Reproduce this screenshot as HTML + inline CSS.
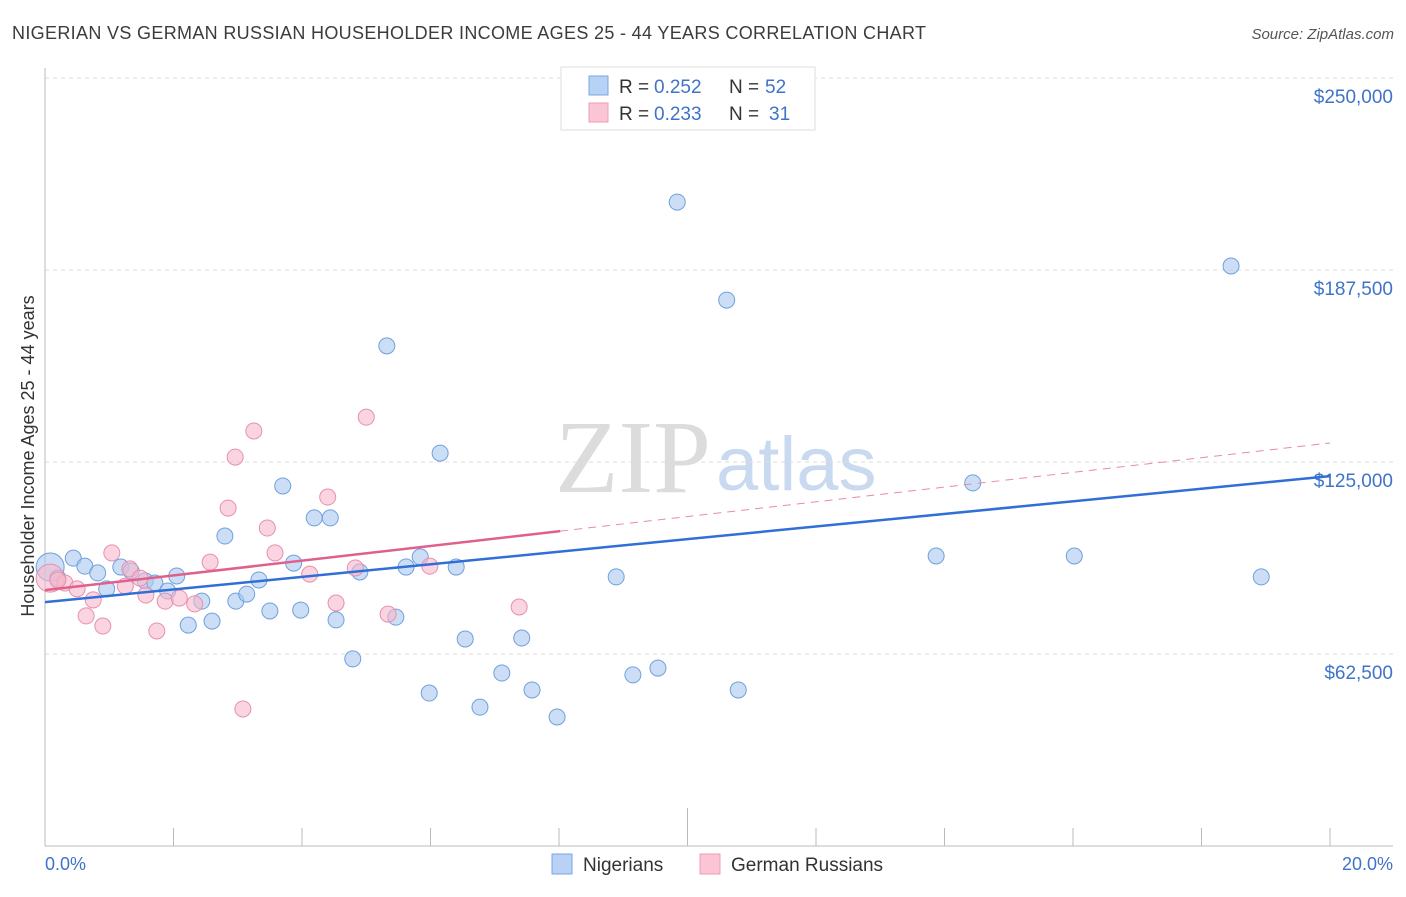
<!DOCTYPE html>
<html><head><meta charset="utf-8"><style>
body{margin:0;background:#fff;font-family:"Liberation Sans",sans-serif;}
</style></head><body>
<svg id="chart" width="1406" height="892" xmlns="http://www.w3.org/2000/svg">
<text x="12" y="39" font-size="18" fill="#3c3c3c" textLength="914">NIGERIAN VS GERMAN RUSSIAN HOUSEHOLDER INCOME AGES 25 - 44 YEARS CORRELATION CHART</text>
<text x="1394" y="39" font-size="15" fill="#555" font-style="italic" text-anchor="end">Source: ZipAtlas.com</text>
<text x="555" y="492" font-size="104" fill="#dcdcdc" font-family="Liberation Serif">ZIP</text>
<text x="716" y="490" font-size="76" fill="#c9daf0">atlas</text>
<g id="grid"></g><g id="axes"></g><g id="marks"></g>
<text transform="translate(34,456) rotate(-90)" font-size="18" fill="#333" text-anchor="middle">Householder Income Ages 25 - 44 years</text>
<text x="45" y="870" font-size="18" fill="#3f73c9">0.0%</text>
<text x="1393" y="870" font-size="18" fill="#3f73c9" text-anchor="end">20.0%</text>
<g>
<rect x="561" y="67" width="254" height="63" fill="#fff" stroke="#ddd"/>
<rect x="589" y="76" width="19" height="19" fill="#b7d2f5" stroke="#7aa7e0"/>
<rect x="589" y="103" width="19" height="19" fill="#fac6d6" stroke="#ee9cb7"/>
<text x="619" y="93" font-size="19" fill="#333">R =</text>
<text x="654" y="93" font-size="19" fill="#3f73c9">0.252</text>
<text x="729" y="93" font-size="19" fill="#333">N =</text>
<text x="765" y="93" font-size="19" fill="#3f73c9">52</text>
<text x="619" y="120" font-size="19" fill="#333">R =</text>
<text x="654" y="120" font-size="19" fill="#3f73c9">0.233</text>
<text x="729" y="120" font-size="19" fill="#333">N =</text>
<text x="769" y="120" font-size="19" fill="#3f73c9">31</text>
</g>
<g>
<rect x="552" y="854" width="20" height="20" fill="#b7d2f5" stroke="#7aa7e0"/>
<text x="583" y="871" font-size="19" fill="#333">Nigerians</text>
<rect x="700" y="854" width="20" height="20" fill="#fac6d6" stroke="#ee9cb7"/>
<text x="731" y="871" font-size="19" fill="#333">German Russians</text>
</g>
</svg>
<script>
const yTicks=[62500,125000,187500,250000];
const yTickLabels=["$62,500","$125,000","$187,500","$250,000"];
const xTicks=[0,2,4,6,8,10,12,14,16,18,20];
const nigX=[0.08,0.20,0.44,0.62,0.82,0.96,1.18,1.34,1.56,1.71,1.91,2.05,2.23,2.44,2.60,2.80,2.97,3.14,3.33,3.50,3.70,3.87,3.98,4.19,4.44,4.53,4.79,4.90,5.32,5.46,5.62,5.84,6.15,6.40,6.54,6.77,7.11,7.42,7.58,7.97,8.89,9.15,9.54,9.84,10.61,10.79,13.87,14.44,16.02,18.46,18.93,5.98];
const nigY=[90.8,87.2,93.7,91.1,88.9,83.7,90.8,89.5,86.3,85.6,83.0,87.9,71.9,79.7,73.2,100.9,79.7,82.0,86.6,76.5,117.2,92.1,76.8,106.8,106.8,73.6,60.9,89.2,162.8,74.5,90.8,94.1,127.9,90.8,67.4,45.2,56.3,67.7,50.8,42.0,87.6,55.7,57.9,209.6,177.7,50.8,94.4,118.2,94.4,188.8,87.6,49.8];
const grX=[0.08,0.31,0.50,0.64,0.75,0.90,1.04,1.25,1.32,1.48,1.57,1.74,1.87,2.09,2.33,2.57,2.85,2.96,3.08,3.25,3.46,3.58,4.12,4.40,4.53,4.83,5.00,5.34,5.99,7.38,0.20];
const grY=[87.2,85.6,83.7,74.9,80.1,71.6,95.4,84.6,90.2,87.2,81.7,70.0,79.7,80.7,78.8,92.4,110.0,126.6,44.6,135.1,103.5,95.4,88.5,113.6,79.1,90.5,139.6,75.5,91.1,77.8,86.6];
const nigTrend=[79.4,120.4];
const grTrend=[83.3,131.2];
const grSolidEnd=8.02;
const X=v=>45+v/20*1285;
const Y=k=>846-k*1000/62500*192;
const NS="http://www.w3.org/2000/svg";
function mk(tag,attrs,parent){const e=document.createElementNS(NS,tag);for(const k in attrs)e.setAttribute(k,attrs[k]);document.getElementById(parent).appendChild(e);return e;}
yTicks.forEach((t,i)=>{
 const l=mk('line',{x1:45,x2:1393,y1:Y(t/1000),y2:Y(t/1000),stroke:'#ddd','stroke-dasharray':'4,4'},'grid');
 
 
 const tx=mk('text',{x:1393,y:Y(t/1000)+25,'font-size':19,fill:'#3f73c9','text-anchor':'end'},'grid');
 tx.textContent=yTickLabels[i];
 
 
});
mk('line',{x1:45,x2:45,y1:68,y2:846,stroke:'#bbb'},'axes');
mk('line',{x1:45,x2:1393,y1:846,y2:846,stroke:'#bbb'},'axes');
xTicks.forEach(t=>{
 const l=mk('line',{x1:X(t),x2:X(t),y1:846,y2:t==10?808:828,stroke:'#bbb'},'axes');
 
 
});
function dots(xs,ys,fill,stroke,name){
 xs.forEach((x,i)=>{
  const c=mk('circle',{cx:X(x),cy:Y(ys[i]),r:i==0?14:8,fill:fill,'fill-opacity':0.6,stroke:stroke,'stroke-width':1},'marks');
  
  
 });
}
dots(nigX,nigY,'#aac8f0','#6fa0dc','nigerian-point');
dots(grX,grY,'#f6b8cc','#e890ad','german-russian-point');
let l=mk('line',{x1:X(0),y1:Y(nigTrend[0]),x2:X(20),y2:Y(nigTrend[1]),stroke:'#2f6fd6','stroke-width':2.5},'marks');


const gAt=x=>grTrend[0]+(grTrend[1]-grTrend[0])*x/20;
l=mk('line',{x1:X(0),y1:Y(gAt(0)),x2:X(grSolidEnd),y2:Y(gAt(grSolidEnd)),stroke:'#e0608d','stroke-width':2.5},'marks');


l=mk('line',{x1:X(grSolidEnd),y1:Y(gAt(grSolidEnd)),x2:X(20),y2:Y(gAt(20)),stroke:'#e88aab','stroke-width':1,'stroke-dasharray':'8,6'},'marks');


</script>
</body></html>
